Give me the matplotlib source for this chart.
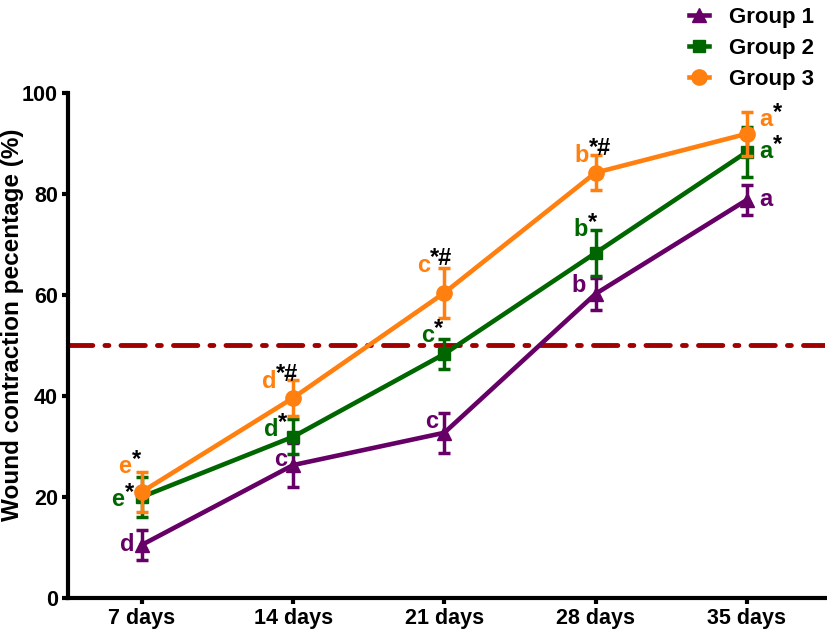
import numpy as np
import matplotlib.pyplot as plt

plt.rcParams['font.family'] = ['Liberation Sans', 'DejaVu Sans']
plt.rcParams['font.weight'] = 'bold'

days = ['7 days', '14 days', '21 days', '28 days', '35 days']
g1 = [10.5, 26.3, 32.7, 60.2, 78.8]
g1_err = [3.0, 4.3, 4.0, 3.2, 3.0]
g2 = [20.0, 31.9, 48.3, 68.3, 88.3]
g2_err = [4.0, 3.5, 3.0, 4.5, 5.0]
g3 = [21.0, 39.6, 60.4, 84.2, 91.9]
g3_err = [4.0, 3.5, 5.0, 3.5, 4.3]

g1_letters = ['d', 'c', 'c', 'b', 'a']
g1_marks = ['', '', '', '', '']
g2_letters = ['e', 'd', 'c', 'b', 'a']
g2_marks = ['*', '*', '*', '*', '*']
g3_letters = ['e', 'd', 'c', 'b', 'a']
g3_marks = ['*', '*#', '*#', '*#', '*']

# label offsets (pixels) from each point
g1_off = [(-15, 0), (-12, 6), (-13, 11), (-17, 8), (19, 0)]
g2_off = [(-24, -3), (-22, 7), (-17, 18), (-15, 23), (19, 0)]
g3_off = [(-17, 25), (-24, 16), (-21, 27), (-14, 17), (19, 14)]

purple = '#660066'
green = '#006600'
orange = '#FF7F0F'

fig = plt.figure(figsize=(8.27, 6.32), dpi=100)
ax = fig.add_axes([0.082, 0.054, 0.916, 0.799])
x = np.arange(len(days))

ax.axhline(50, color='#A00000', lw=3.5, linestyle=(0, (5, 2.5, 0.8, 2.5)),
           dash_capstyle='round', zorder=1)

series = [
    ('Group 1', g1, g1_err, purple, '^', 10, g1_letters, g1_marks, g1_off),
    ('Group 2', g2, g2_err, green, 's', 9, g2_letters, g2_marks, g2_off),
    ('Group 3', g3, g3_err, orange, 'o', 11, g3_letters, g3_marks, g3_off),
]
handles = []
for i, (name, y, err, c, m, ms, letters, marks, offs) in enumerate(series):
    ax.errorbar(x, y, yerr=err, color=c, marker=m, ms=ms, lw=3.3, elinewidth=2.5,
                capsize=4, capthick=2.5, zorder=3 + i)
    handles.append(ax.plot([], [], color=c, marker=m, ms=ms, lw=3.3, label=name)[0])
    for xi, yi, lt, mk, (dx, dy) in zip(x, y, letters, marks, offs):
        ax.annotate(lt, (xi, yi), xytext=(dx, dy), textcoords='offset pixels',
                    color=c, fontsize=17, fontweight='bold', ha='center', va='center',
                    zorder=10)
        if mk:
            ax.annotate(mk, (xi, yi), xytext=(dx + 7, dy + 7), textcoords='offset pixels',
                        color='black', fontsize=17, fontweight='bold', ha='left',
                        va='center', zorder=10)

ax.set_xlim(-0.49, 4.52)
ax.set_ylim(0, 100)
ax.set_yticks([0, 20, 40, 60, 80, 100])
ax.set_xticks(x)
ax.set_xticklabels(days)
ax.spines['top'].set_visible(False)
ax.spines['right'].set_visible(False)
for s in ['left', 'bottom']:
    ax.spines[s].set_linewidth(3)
ax.tick_params(width=3, length=4, labelsize=15.5, pad=3)
for lab in ax.get_xticklabels() + ax.get_yticklabels():
    lab.set_fontweight('bold')
ax.set_ylabel('Wound contraction pecentage (%)', fontsize=17.5, fontweight='bold')
ax.yaxis.set_label_coords(-0.058, 0.54)

fig.legend(handles=handles, labels=['Group 1', 'Group 2', 'Group 3'], loc='upper right',
           bbox_to_anchor=(1.0, 1.01), frameon=False,
           prop={'size': 16, 'weight': 'bold'}, handlelength=0.9, labelspacing=0.45,
           handletextpad=0.9, borderaxespad=0.2)

fig.savefig('out.png', dpi=100)
